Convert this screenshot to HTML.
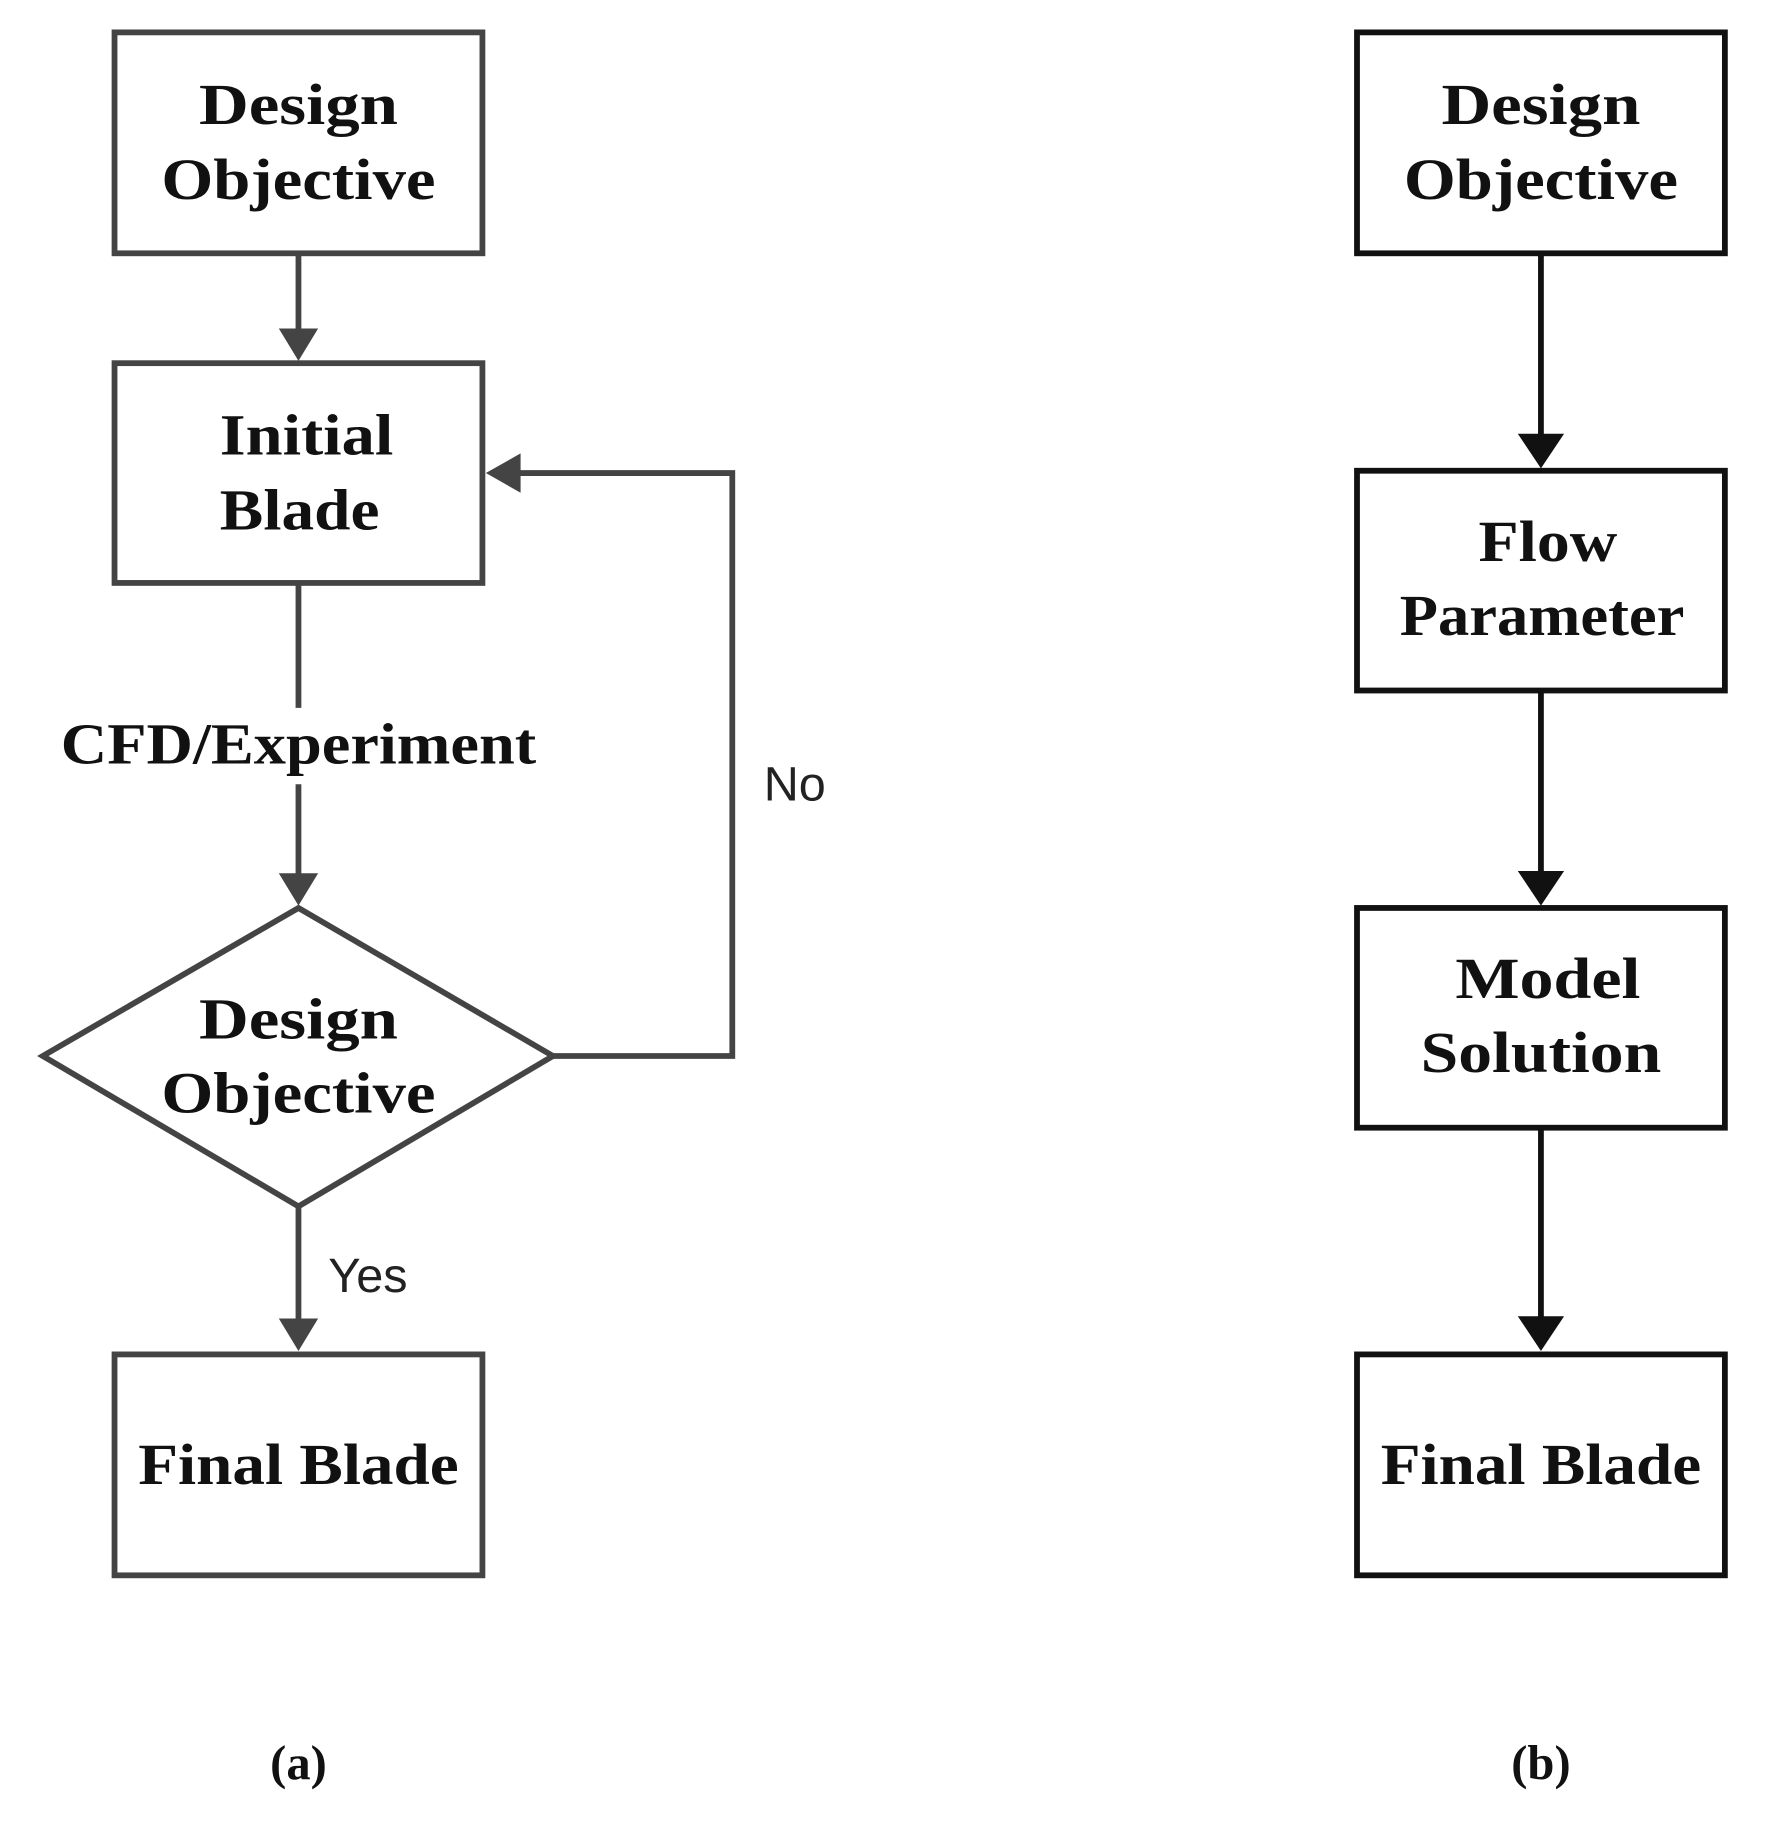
<!DOCTYPE html>
<html><head><style>html,body{margin:0;padding:0;background:#fff;}svg{display:block}</style></head>
<body>
<svg width="1770" height="1824" viewBox="0 0 1530 1577" preserveAspectRatio="none" xmlns="http://www.w3.org/2000/svg">
<g fill="none" stroke="#444" stroke-width="5">
<rect x="99" y="28" width="318" height="191"/>
<rect x="99" y="314" width="318" height="190"/>
<polygon points="37,913 258,785 478,913 258,1043"/>
<rect x="99" y="1171" width="318" height="191"/>
<line x1="258" y1="220" x2="258" y2="290"/>
<line x1="258" y1="505" x2="258" y2="612"/>
<line x1="258" y1="678" x2="258" y2="760"/>
<line x1="258" y1="1043" x2="258" y2="1146"/>
<polyline points="478,913 633,913 633,409 444,409"/>
</g>
<g fill="#444">
<polygon points="241,284 275,284 258,312"/>
<polygon points="241,755 275,755 258,783"/>
<polygon points="241,1140 275,1140 258,1168"/>
<polygon points="450,392 450,426 420,409"/>
</g>
<g fill="none" stroke="#111" stroke-width="5">
<rect x="1173" y="28" width="318" height="191"/>
<rect x="1173" y="407" width="318" height="190"/>
<rect x="1173" y="785" width="318" height="190"/>
<rect x="1173" y="1171" width="318" height="191"/>
<line x1="1332" y1="220" x2="1332" y2="380"/>
<line x1="1332" y1="598" x2="1332" y2="758"/>
<line x1="1332" y1="976" x2="1332" y2="1144"/>
</g>
<g fill="#111">
<polygon points="1312,375 1352,375 1332,405"/>
<polygon points="1312,753 1352,753 1332,783"/>
<polygon points="1312,1138 1352,1138 1332,1168"/>
</g>
<g font-family="Liberation Serif, serif" font-weight="bold" font-size="50" fill="#111" text-anchor="middle" lengthAdjust="spacingAndGlyphs">
<text x="258" y="107" textLength="172" lengthAdjust="spacingAndGlyphs">Design</text>
<text x="258" y="172" textLength="237" lengthAdjust="spacingAndGlyphs">Objective</text>
<text x="265" y="393" textLength="150" lengthAdjust="spacingAndGlyphs">Initial</text>
<text x="259" y="458" textLength="138" lengthAdjust="spacingAndGlyphs">Blade</text>
<text x="258" y="660" textLength="411" lengthAdjust="spacingAndGlyphs">CFD/Experiment</text>
<text x="258" y="898" textLength="172" lengthAdjust="spacingAndGlyphs">Design</text>
<text x="258" y="962" textLength="237" lengthAdjust="spacingAndGlyphs">Objective</text>
<text x="258" y="1283" textLength="277" lengthAdjust="spacingAndGlyphs">Final Blade</text>
<text x="1332" y="107" textLength="172" lengthAdjust="spacingAndGlyphs">Design</text>
<text x="1332" y="172" textLength="237" lengthAdjust="spacingAndGlyphs">Objective</text>
<text x="1338" y="485" textLength="120" lengthAdjust="spacingAndGlyphs">Flow</text>
<text x="1333" y="549" textLength="246" lengthAdjust="spacingAndGlyphs">Parameter</text>
<text x="1338" y="863" textLength="160" lengthAdjust="spacingAndGlyphs">Model</text>
<text x="1332" y="927" textLength="208" lengthAdjust="spacingAndGlyphs">Solution</text>
<text x="1332" y="1283" textLength="277" lengthAdjust="spacingAndGlyphs">Final Blade</text>
<text x="258" y="1538" font-size="42">(a)</text>
<text x="1332" y="1538" font-size="42">(b)</text>
</g>
<g font-family="Liberation Sans, sans-serif" font-size="42" fill="#222" text-anchor="middle">
<text x="687" y="692">No</text>
<text x="318" y="1117">Yes</text>
</g>
</svg>
</body></html>
